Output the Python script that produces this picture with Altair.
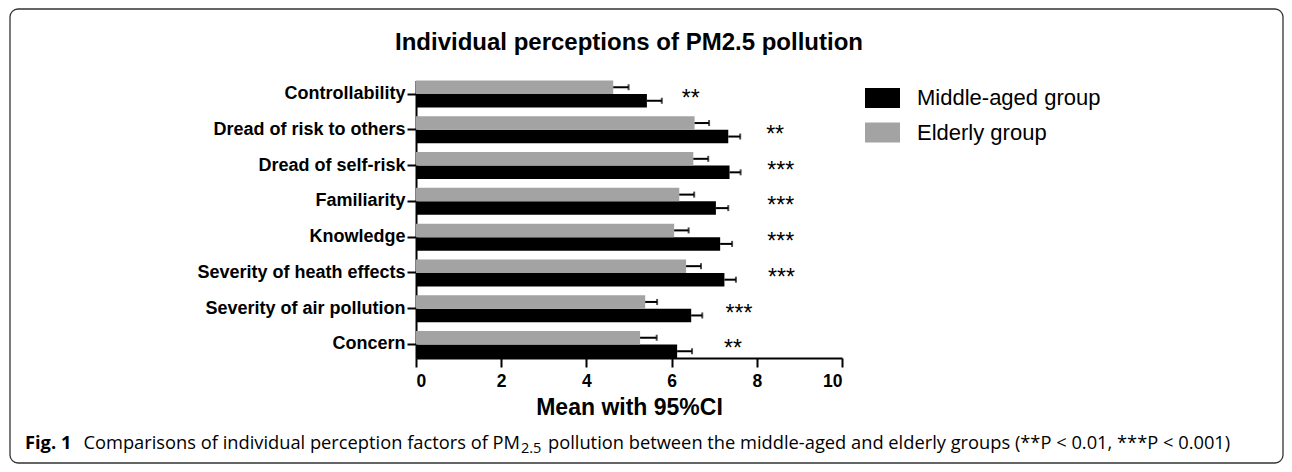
import altair as alt
import pandas as pd

categories = ["Controllability", "Dread of risk to others", "Dread of self-risk", "Familiarity",
              "Knowledge", "Severity of heath effects", "Severity of air pollution", "Concern"]
groups = ["Middle-aged group", "Elderly group"]
middle_mean = [5.42, 7.33, 7.36, 7.04, 7.14, 7.24, 6.46, 6.13]
middle_upper = [5.77, 7.61, 7.62, 7.33, 7.42, 7.51, 6.72, 6.48]
elderly_mean = [4.63, 6.54, 6.51, 6.18, 6.06, 6.34, 5.38, 5.26]
elderly_upper = [4.99, 6.88, 6.86, 6.53, 6.40, 6.69, 5.66, 5.65]
stars = ["**", "**", "***", "***", "***", "***", "***", "**"]
star_x = [6.45, 8.43, 8.56, 8.56, 8.56, 8.58, 7.58, 7.44]
x_ticks = [0, 2, 4, 6, 8, 10]

rows = []
for i, c in enumerate(categories):
    rows.append({"cat": c, "group": groups[0], "mean": middle_mean[i], "upper": middle_upper[i]})
    rows.append({"cat": c, "group": groups[1], "mean": elderly_mean[i], "upper": elderly_upper[i]})
df = pd.DataFrame(rows)
star_df = pd.DataFrame({"cat": categories, "stars": stars, "sx": star_x})

FONT = "Liberation Sans"

yenc = alt.Y("cat:N", sort=categories, title=None,
             scale=alt.Scale(paddingInner=0.245, paddingOuter=0, range=[5.5, 283]),
             axis=alt.Axis(labelFont=FONT, labelFontSize=18, labelFontWeight="bold", labelColor="black",
                           domainColor="black", domainWidth=2, tickColor="black", tickWidth=2,
                           tickSize=9, labelPadding=2, labelLimit=400))
yoff = alt.YOffset("group:N", sort=["Elderly group", "Middle-aged group"])
xscale = alt.Scale(domain=[0, 10], nice=False)

bars = alt.Chart(df).mark_bar().encode(
    x=alt.X("mean:Q", scale=xscale, title="Mean with 95%CI",
            axis=alt.Axis(values=x_ticks, labelFont=FONT, labelFontSize=17.5, labelFontWeight="bold",
                          labelColor="black", domainColor="black", domainWidth=2, tickColor="black",
                          tickWidth=2, tickSize=9, labelPadding=5, grid=False, titleFont=FONT,
                          titleFontSize=23, titleFontWeight="bold", titleColor="black", titlePadding=7)),
    y=yenc,
    yOffset=yoff,
    color=alt.Color("group:N", scale=alt.Scale(domain=groups, range=["#000000", "#a3a3a3"]),
                    legend=alt.Legend(title=None, orient="none", legendX=455.5, legendY=12,
                                      symbolType="M-1.75,-1H1.75V1H-1.75Z", symbolSize=400,
                                      symbolStrokeWidth=0, labelFont=FONT, labelFontSize=22,
                                      labelColor="black", labelOffset=23.5, rowPadding=12.5,
                                      labelLimit=400, padding=0)),
)

err = alt.Chart(df).mark_rule(color="black", strokeWidth=2).encode(
    x=alt.X("mean:Q", scale=xscale), x2="upper:Q", y=yenc, yOffset=yoff)
caps = alt.Chart(df).mark_tick(color="black", orient="vertical", thickness=2, size=6).encode(
    x=alt.X("upper:Q", scale=xscale), y=yenc, yOffset=yoff)

star_text = alt.Chart(star_df).mark_text(font=FONT, fontSize=23, align="center", baseline="middle",
                                         dy=5, color="black").encode(
    x=alt.X("sx:Q", scale=xscale), y=yenc, text="stars:N")

one = pd.DataFrame({"k": [0]})
border = alt.Chart(one).mark_rect(fill=None, stroke="#333333", strokeWidth=1.3, cornerRadius=8).encode(
    x=alt.value(-406), x2=alt.value(867), y=alt.value(-66), y2=alt.value(388))

title = alt.Chart(one).mark_text(font=FONT, fontSize=24, fontWeight="bold", align="center",
                                 baseline="alphabetic", color="black").encode(
    x=alt.value(213), y=alt.value(-25), text=alt.value("Individual perceptions of PM2.5 pollution"))

CFONT = "Open Sans"
CSIZE = 18.3
cap1 = alt.Chart(one).mark_text(font=CFONT, fontSize=CSIZE, fontWeight="bold", align="left",
                                baseline="alphabetic", color="black").encode(
    x=alt.value(-391), y=alt.value(374), text=alt.value("Fig. 1"))
cap2 = alt.Chart(one).mark_text(font=CFONT, fontSize=CSIZE, align="right", baseline="alphabetic",
                                color="black").encode(
    x=alt.value(104), y=alt.value(374),
    text=alt.value("Comparisons of individual perception factors of PM"))
cap3 = alt.Chart(one).mark_text(font=CFONT, fontSize=14.5, align="left", baseline="alphabetic",
                                color="black").encode(
    x=alt.value(105), y=alt.value(378), text=alt.value("2.5"))
cap4 = alt.Chart(one).mark_text(font=CFONT, fontSize=CSIZE, align="left", baseline="alphabetic",
                                color="black").encode(
    x=alt.value(132), y=alt.value(374),
    text=alt.value("pollution between the middle-aged and elderly groups (**P < 0.01, ***P < 0.001)"))

chart = alt.layer(border, title, bars, err, caps, star_text, cap1, cap2, cap3, cap4).properties(
    width=426, height=283,
    padding={"left": 408, "top": 67, "right": 442, "bottom": 106},
    autosize=alt.AutoSizeParams(type="none"),
    background="white",
).configure_view(stroke=None)

chart.save("out.html", embed_options={"renderer": "svg", "actions": False})
